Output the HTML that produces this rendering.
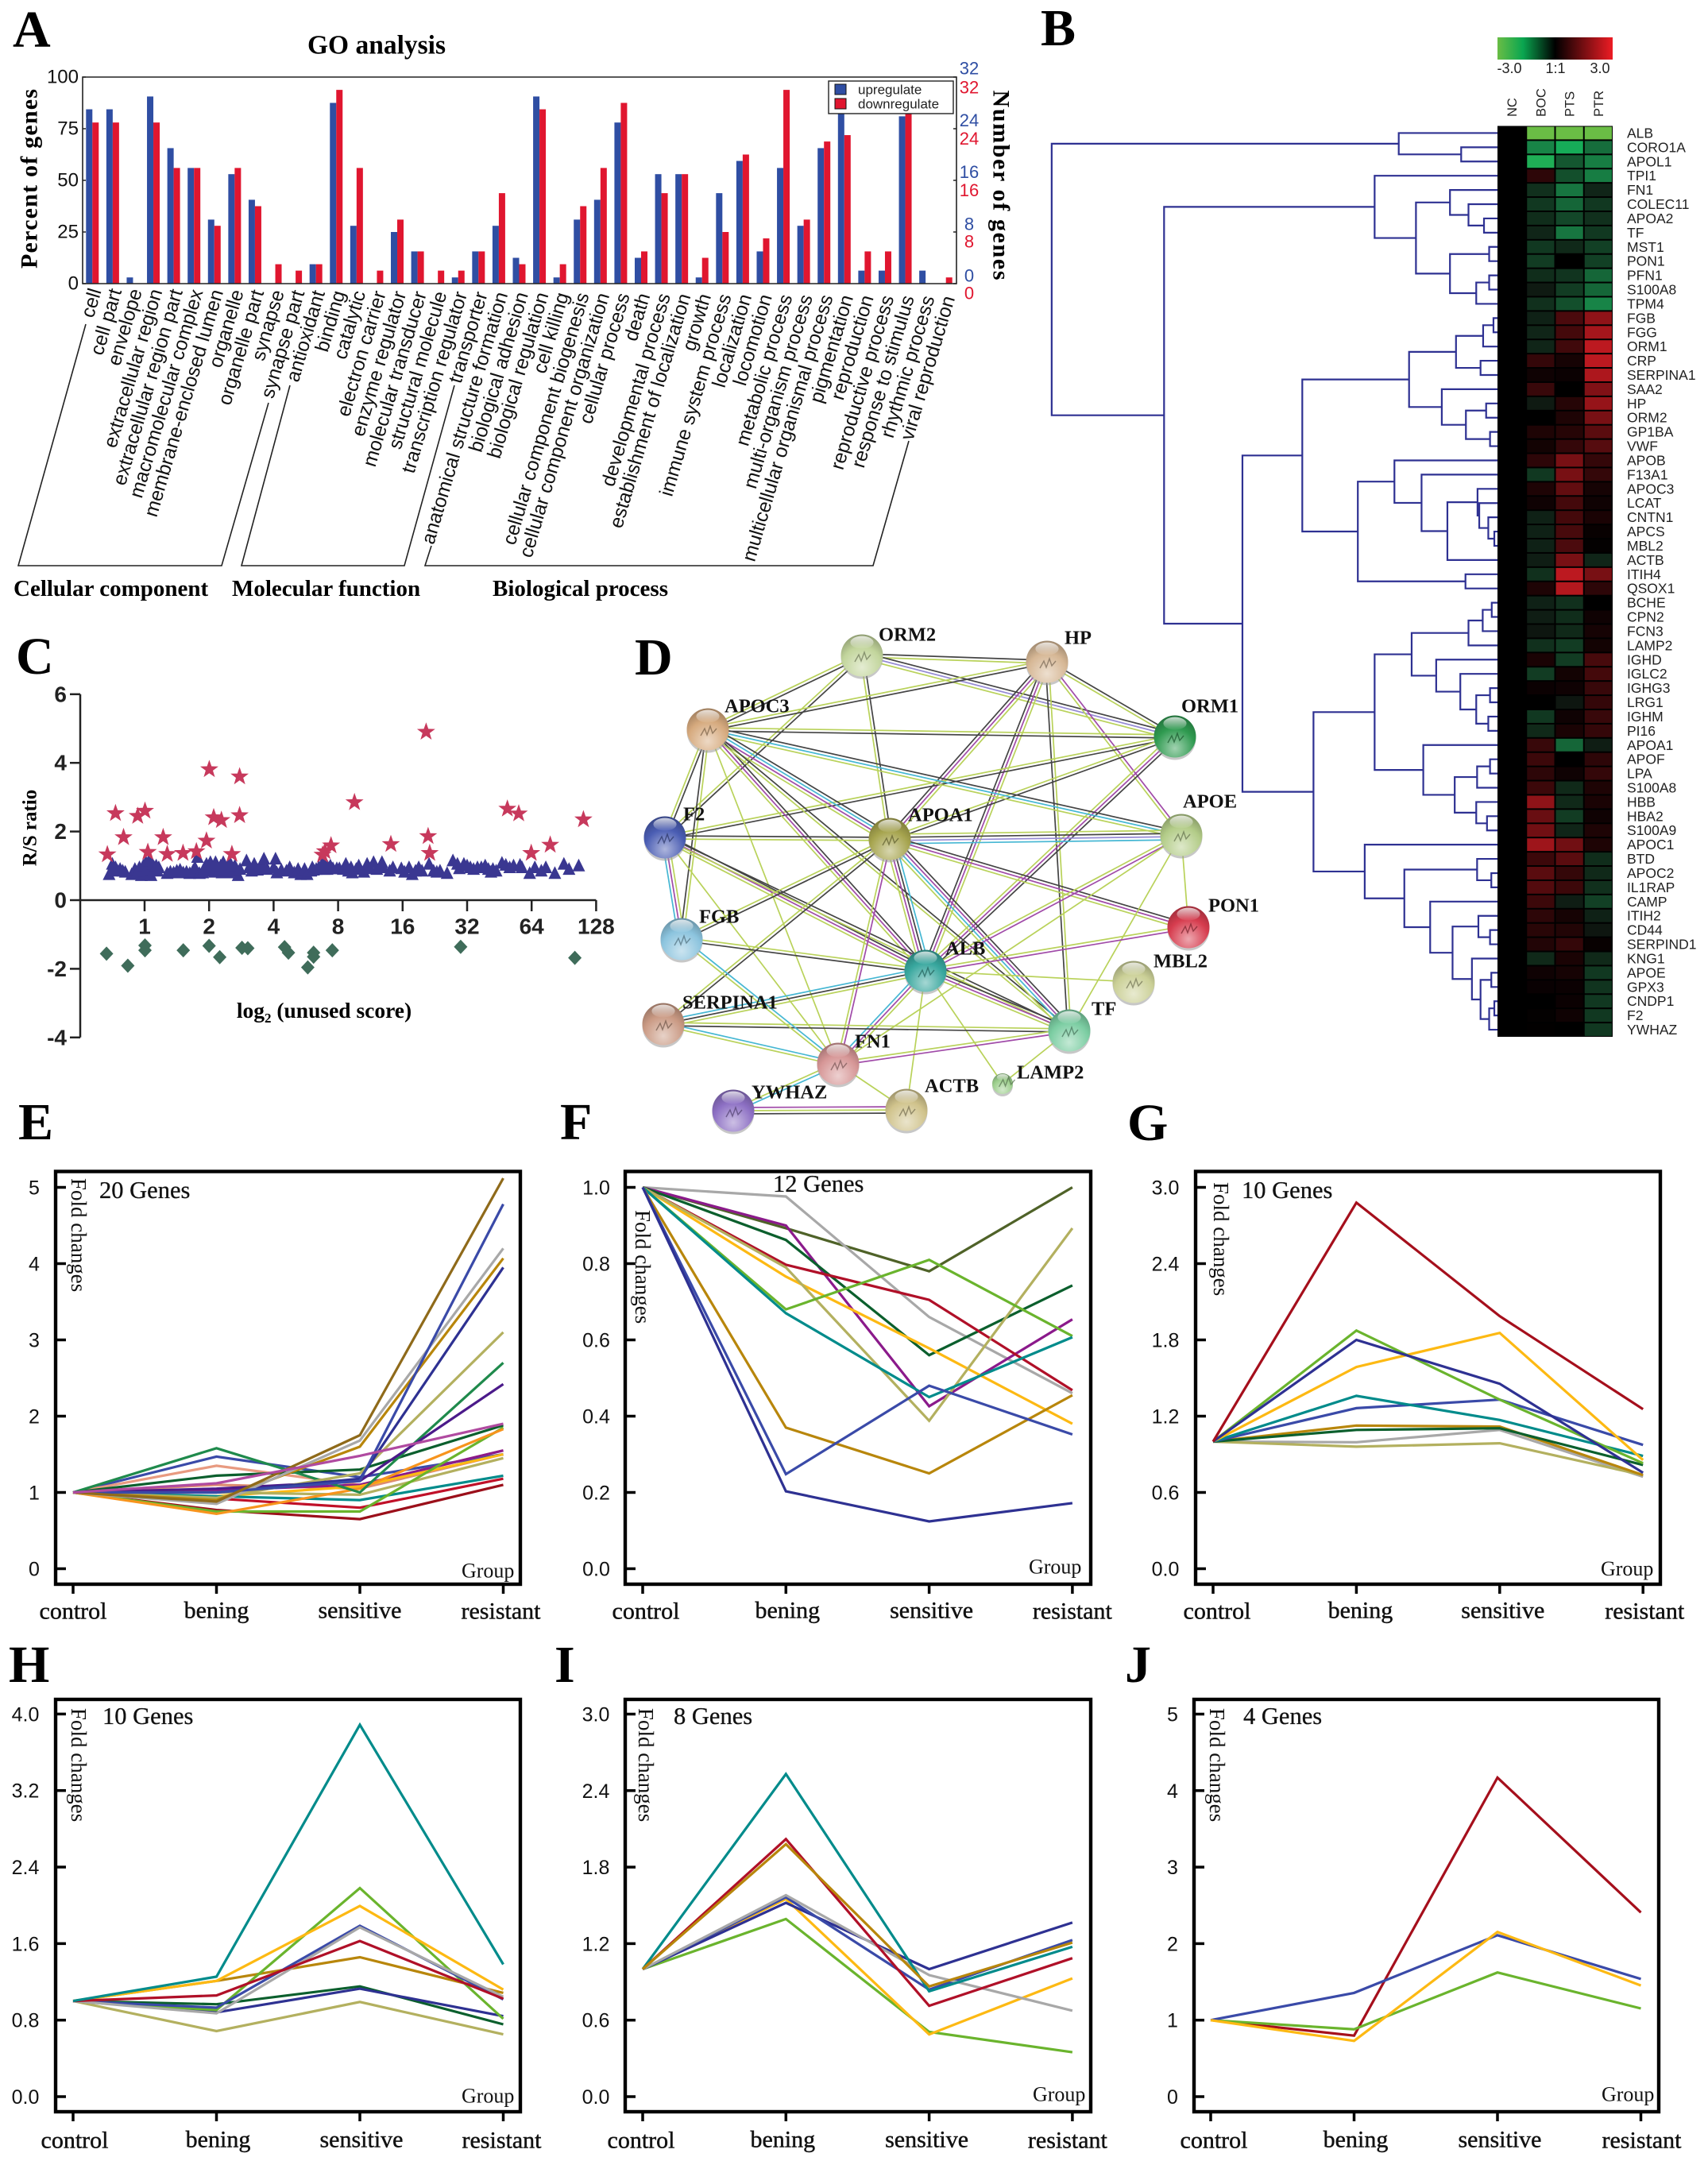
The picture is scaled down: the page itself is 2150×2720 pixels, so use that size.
<!DOCTYPE html>
<html lang="en">
<head>
<meta charset="utf-8">
<title>Proteomics figure panels A-J</title>
<style>
html,body{margin:0;padding:0;background:#fff;}
svg{display:block;}
.serif{font-family:"Liberation Serif",serif;}
.sans{font-family:"Liberation Sans",sans-serif;}
.sb{font-family:"Liberation Serif",serif;font-weight:bold;}
.letter{font-family:"Liberation Serif",serif;font-weight:bold;font-size:66px;fill:#000;}
</style>
</head>
<body>
<svg id="figure" xmlns="http://www.w3.org/2000/svg" width="2150" height="2720" viewBox="0 0 2150 2720">
<defs id="defs"></defs>
<rect width="2150" height="2720" fill="#fff"/>

<g>
<text class="letter" x="16" y="59">A</text>
<text class="letter" x="1310" y="57">B</text>
<text class="letter" x="20" y="848">C</text>
<text class="letter" x="799" y="849">D</text>
<text class="letter" x="23" y="1434">E</text>
<text class="letter" x="705" y="1434">F</text>
<text class="letter" x="1419" y="1435">G</text>
<text class="letter" x="11" y="2117">H</text>
<text class="letter" x="698" y="2117">I</text>
<text class="letter" x="1416" y="2117">J</text>
</g>

<g id="panelA">
<text class="sb" x="474" y="57" font-size="33.5" text-anchor="middle" dominant-baseline="central">GO analysis</text>
<text class="sb" transform="translate(37 225) rotate(-90)" font-size="30" text-anchor="middle" dominant-baseline="central" textLength="226" lengthAdjust="spacing">Percent of genes</text>
<text class="sb" transform="translate(1260 233) rotate(90)" font-size="30" text-anchor="middle" dominant-baseline="central" textLength="239" lengthAdjust="spacing">Number of genes</text>
<polyline points="108,408 23,712 279,712 338,507" fill="none" stroke="#222" stroke-width="1.6"/>
<polyline points="365,485 304,712 509,712 572,485" fill="none" stroke="#222" stroke-width="1.6"/>
<polyline points="543,687 535,712 1099,712 1144,555" fill="none" stroke="#222" stroke-width="1.6"/>
<text class="sb" x="17" y="750" font-size="29">Cellular component</text>
<text class="sb" x="292" y="750" font-size="29">Molecular function</text>
<text class="sb" x="620" y="750" font-size="29">Biological process</text>
</g>

<g id="panelB"></g>

<g id="panelC">
<text class="sb" transform="translate(38 1042) rotate(-90)" font-size="25" text-anchor="middle" dominant-baseline="central">R/S ratio</text>
<text class="sb" x="408" y="1281" font-size="27.5" text-anchor="middle">log<tspan font-size="17" dy="6">2</tspan><tspan dy="-6"> (unused score)</tspan></text>
</g>

<g id="panelD"></g>
<g id="panelsLine"></g>
</svg>

<script>
/* ---------- Panel A data ---------- */
const goCategories = ["cell","cell part","envelope","extracellular region","extracellular region part","macromolecular complex","membrane-enclosed lumen","organelle","organelle part","synapse","synapse part","antioxidant","binding","catalytic","electron carrier","enzyme regulator","molecular transducer","structural molecule","transcription regulator","transporter","anatomical structure formation","biological adhesion","biological regulation","cell killing","cellular component biogenesis","cellular component organization","cellular process","death","developmental process","establishment of localization","growth","immune system process","localization","locomotion","metabolic process","multi-organism process","multicellular organismal process","pigmentation","reproduction","reproductive process","response to stimulus","rhythmic process","viral reproduction"];
const goUp = [84.4,84.4,3,90.6,65.6,56,31,53,40.6,0,0,9.4,87.5,28,0,25,15.6,0,3,15.6,28,12.5,90.6,3,31,40.6,78,12.5,53,53,3,43.8,59.4,15.6,56,28,65.6,90,6.3,6.3,81,6.3,0];
const goDown = [78,78,0,78,56,56,28,56,37.5,9.4,6.3,9.4,93.8,56,6.3,31,15.6,6.3,6.3,15.6,43.8,9.4,84.4,9.4,37.5,56,87.5,15.6,43.8,53,12.5,25,62.5,21.9,93.8,31,68.8,71.9,15.6,15.6,87.5,0,3];
const goLeftTicks = [0,25,50,75,100];
const goBlueTicks = ["0","8","16","24","32"];
const goRedTicks = ["0","8","16","24","32"];

/* ---------- Panel B data ---------- */
const heatGenes = ["ALB","CORO1A","APOL1","TPI1","FN1","COLEC11","APOA2","TF","MST1","PON1","PFN1","S100A8","TPM4","FGB","FGG","ORM1","CRP","SERPINA1","SAA2","HP","ORM2","GP1BA","VWF","APOB","F13A1","APOC3","LCAT","CNTN1","APCS","MBL2","ACTB","ITIH4","QSOX1","BCHE","CPN2","FCN3","LAMP2","IGHD","IGLC2","IGHG3","LRG1","IGHM","PI16","APOA1","APOF","LPA","S100A8","HBB","HBA2","S100A9","APOC1","BTD","APOC2","IL1RAP","CAMP","ITIH2","CD44","SERPIND1","KNG1","APOE","GPX3","CNDP1","F2","YWHAZ"];
const heatColumns = ["NC","BOC","PTS","PTR"];
const heatBOC = [-3,-1.5,-2.2,.6,-.4,-.5,-.35,-.25,-.5,-.55,-.35,-.1,-.4,-.2,-.25,-.25,.7,.2,.75,-.1,0,.4,.25,.6,-.5,.4,.2,-.2,-.2,-.2,-.15,-.4,.4,-.2,-.15,-.05,-.4,.35,-.55,.15,0,-.5,-.3,.75,.8,.6,.8,1.9,1.4,1.5,2.1,.8,1.2,1.1,.8,.6,.55,.45,-.3,.2,.12,0,.05,.03];
const heatPTS = [-3,-2.1,-.9,-.8,-1.3,-1.1,-.7,-1.3,-.3,0,-.45,-.55,-.8,1,.9,.85,.3,.15,0,.5,.4,.5,.7,1.6,1.6,1.3,.9,.9,.95,1,1.6,2.5,2.4,-.4,-.35,-.3,-.55,-.55,.25,.2,-.05,.2,.35,-1.1,0,.2,-.3,-.3,-.55,-.25,1.5,1.2,.7,.8,-.15,.3,.45,.7,.35,.3,.15,.15,.2,0];
const heatPTR = [-3,-1.2,-1.4,-1.4,-.25,-.5,-.4,-.5,-.6,-.6,-1.1,-1.1,-1.5,1.9,2.2,2.5,2.5,2.3,1.7,2,1.6,1.2,1.15,.7,.7,.3,.2,.35,.1,.05,-.25,1.6,.6,0,.2,.3,.25,.95,.9,.75,.7,.75,.7,-.15,.6,.7,.4,.35,.2,.4,.4,-.35,-.3,-.4,-.6,-.2,-.05,.1,-.3,-.5,-.45,-.5,-.5,-.5];
const colorbarLabels = ["-3.0","1:1","3.0"];
/* merge heights: [height, childA, childB], integers are gene rows */
const dendroTree = [44,
  [850,0,[995,1,2]],
  [305,
    [794,3,[890,[969,4,[1012,5,[1048,6,7]]],[969,[1060,8,9],[1030,[1060,10,11],12]]]],
    [487,
      [626,
        [874,[983,[1046,[1070,13,14],15],[1040,16,17]],[950,18,[1006,[1053,19,20],[1062,21,22]]]],
        [755,[840,23,[903,24,[963,[1033,25,[1037,26,[1058,27,[1072,28,29]]]],30]]],[1005,31,32]]
      ],
      [652,
        [794,
          [880,[1012,[1045,[1066,33,34],35],36],[937,37,[993,38,[1030,[1062,39,40],[1058,41,42]]]]],
          [907,43,[980,[1032,[1062,44,45],46],[1030,47,[1055,48,49]]]]
        ],
        [771,50,[863,[1032,51,[1065,52,53]],[923,54,[975,[1035,55,[1062,56,57]],[1020,58,[1040,[1065,59,60],[1060,[1072,61,62],63]]]]]]]
      ]
    ]
  ]
];

/* ---------- Panel C data (log2 score, ratio) ---------- */
const scoreTicks = ["1","2","4","8","16","32","64","128"];
const ratioTicks = [6,4,2,0,-2,-4];
const starPoints = [[-.577,1.33],[-.451,2.53],[-.326,1.83],[-.107,2.45],[.006,2.6],[.05,1.4],[.288,1.83],[.351,1.34],[.596,1.37],[.803,1.42],[.959,1.73],[1.003,3.81],[1.072,2.41],[1.191,2.33],[1.354,1.34],[1.473,3.6],[1.473,2.47],[2.759,1.32],[2.796,1.42],[2.89,1.59],[3.254,2.85],[3.818,1.63],[4.364,4.9],[4.395,1.86],[4.42,1.37],[5.624,2.66],[5.8,2.52],[5.994,1.37],[6.288,1.61],[6.803,2.35]];
const trianglePoints = [[-.55,.75],[-.5,1.05],[-.48,.9],[-.45,.95],[-.42,.85],[-.38,.9],[-.34,.85],[-.3,.82],[-.2,.75],[-.15,.9],[-.12,.8],[-.08,.95],[-.05,.72],[-.02,1],[0,.85],[.02,1.1],[.04,.95],[.05,.78],[.07,1.15],[.1,.9],[.12,1.05],[.1,.72],[.15,.95],[.18,1],[.2,.85],[.22,.95],[.35,.78],[.4,.82],[.45,.8],[.5,.85],[.55,.88],[.6,.8],[.65,.82],[.7,.78],[.75,.85],[.78,.95],[.82,1.25],[.85,.78],[.9,.8],[.93,.95],[.96,1.05],[1,.85],[1.02,1.1],[1.05,.95],[1.08,.82],[1.1,1.1],[1.15,.85],[1.18,1],[1.2,.8],[1.22,1.1],[1.25,.9],[1.3,.8],[1.32,1.1],[1.35,.95],[1.38,.85],[1.4,1],[1.45,.72],[1.48,.9],[1.58,1.15],[1.62,.95],[1.66,.85],[1.7,1.05],[1.75,.88],[1.8,1],[1.85,.95],[1.9,.9],[1.85,1.2],[2,.95],[2.05,.8],[2.03,1.2],[2.12,.88],[2.2,.85],[2.25,.95],[2.32,.8],[2.38,.9],[2.42,.75],[2.48,.9],[2.52,.75],[2.58,.85],[2.6,.95],[2.62,.88],[2.66,.9],[2.7,.95],[2.75,1.05],[2.78,.9],[2.8,1.1],[2.83,.9],[2.88,1],[2.92,.92],[2.98,.92],[3.02,.92],[3.08,.9],[3.12,1.05],[3.16,.85],[3.2,.95],[3.22,.8],[3.28,.9],[3.32,1],[3.4,.82],[3.45,1.05],[3.5,.92],[3.55,1.1],[3.6,.9],[3.68,1.1],[3.7,.95],[3.8,.85],[3.85,.95],[3.98,.92],[4.03,.82],[4.1,.95],[4.15,.75],[4.2,.85],[4.25,.95],[4.3,.85],[4.41,1.05],[4.48,.85],[4.53,.82],[4.58,.85],[4.69,.78],[4.78,1.15],[4.85,1.05],[4.88,.92],[4.95,1.05],[5,1],[5.05,.95],[5.1,.9],[5.16,.95],[5.22,.95],[5.28,1],[5.33,.9],[5.37,.82],[5.4,.9],[5.45,.85],[5.54,1.08],[5.6,1.02],[5.66,.95],[5.72,1],[5.82,1.02],[5.85,.95],[5.97,.78],[6.05,.95],[6.15,.85],[6.22,.95],[6.36,.78],[6.5,1.05],[6.58,.9],[6.73,1]];
const diamondPoints = [[-.59,-1.56],[-.26,-1.91],[.006,-1.32],[.006,-1.46],[.6,-1.46],[1,-1.33],[1.165,-1.66],[1.51,-1.39],[1.6,-1.4],[2.17,-1.37],[2.23,-1.53],[2.53,-1.96],[2.62,-1.53],[2.62,-1.65],[2.91,-1.46],[4.9,-1.36],[6.67,-1.68]];

/* ---------- Panel D data ---------- */
const netNodes = {
  ORM2:[1085,825,26.5,"#c2d59c",1106,799], HP:[1318,833,26.5,"#d6b795",1340,803], ORM1:[1479,927,26.5,"#2f9a50",1487,889],
  APOE:[1487,1051,26.5,"#b3cc88",1489,1009], PON1:[1496,1167,26.5,"#d63c4e",1521,1140], MBL2:[1427,1236,26.5,"#cbd097",1452,1210],
  TF:[1346,1297,26.5,"#7bcda2",1374,1270], LAMP2:[1262,1364,13,"#9dcf8d",1280,1350], ACTB:[1141,1397,26.5,"#d0c38c",1164,1367],
  YWHAZ:[923,1398,26.5,"#8d70c4",946,1375], FN1:[1055,1339,26.5,"#d69696",1076,1311], SERPINA1:[835,1289,26.5,"#ca9a84",859,1262],
  ALB:[1165,1222,26.5,"#38a79e",1190,1194], FGB:[858,1182,26.5,"#8cc4de",880,1154], F2:[837,1054,26.5,"#4a5db3",860,1025],
  APOA1:[1120,1056,26.5,"#a6a44e",1143,1026], APOC3:[891,918,26.5,"#d6aa7e",912,889]
};
const netEdges = [
  ["ORM2","HP","ky"],["ORM2","ORM1","kpy"],["ORM2","APOC3","ky"],["ORM2","APOA1","ky"],["ORM2","F2","ky"],
  ["HP","APOC3","ky"],["HP","ORM1","ky"],["HP","APOE","my"],["HP","APOA1","ymk"],["HP","ALB","ymk"],["HP","TF","yk"],
  ["ORM1","APOC3","ky"],["ORM1","F2","ky"],["ORM1","APOA1","ky"],["ORM1","ALB","kmy"],
  ["APOC3","APOE","kcy"],["APOC3","F2","ky"],["APOC3","FGB","yk"],["APOC3","APOA1","kcmy"],["APOC3","ALB","kmy"],["APOC3","TF","ky"],["APOC3","FN1","y"],
  ["F2","APOA1","ky"],["APOA1","APOE","ykpc"],["F2","FGB","ymc"],["F2","ALB","kmy"],["F2","TF","ky"],["F2","FN1","y"],
  ["APOA1","PON1","kmy"],["APOA1","ALB","ckmy"],["APOA1","TF","kmcy"],["APOA1","FGB","ky"],["APOA1","SERPINA1","ky"],["APOA1","FN1","my"],
  ["APOE","PON1","y"],["APOE","ALB","my"],["APOE","TF","y"],["APOE","FN1","y"],["PON1","ALB","my"],["MBL2","ALB","y"],
  ["ALB","TF","kmy"],["ALB","FGB","ky"],["ALB","SERPINA1","ykc"],["ALB","FN1","ymc"],["ALB","ACTB","y"],["ALB","LAMP2","y"],["TF","LAMP2","y"],
  ["TF","SERPINA1","ky"],["TF","FN1","my"],["SERPINA1","FN1","cy"],["FGB","FN1","cy"],["FN1","ACTB","y"],["FN1","YWHAZ","cy"],["YWHAZ","ACTB","myk"]
];

/* ---------- Fold change panels data ---------- */
const stages = ["control","bening","sensitive","resistant"];
const eTicks = ["0","1","2","3","4","5"];
const eColors = ["#dd8b70","#3a4aa8","#e89a80","#8b1a8b","#fdb913","#b3b05f","#008b8b","#c01028","#9b0f1a","#6ab42d","#f7941d","#0b5f2d","#1f8a4c","#4b1a8a","#b3b05f","#2e3192","#b8860b","#a8a8a8","#3a4aa8","#8f6a1a","#b04aa0"];
const eValues = [[1,1.1,1.05,1.5],[1,1.47,1.2,1.5],[1,1.35,1.1,1.55],[1,1.03,1.1,1.55],[1,.95,1.08,1.5],[1,1,.97,1.45],[1,.95,.9,1.22],[1,.92,.8,1.18],[1,.77,.65,1.1],[1,.75,.75,1.85],[1,.72,1.05,1.83],[1,1.22,1.3,1.88],[1,1.58,1,2.7],[1,1.05,1.15,2.42],[1,.93,1.25,3.1],[1,1,1.18,3.95],[1,.9,1.6,4.07],[1,.85,1.68,4.2],[1,1,1.15,4.78],[1,.88,1.75,5.12],[1,1.12,1.48,1.9]];
const fTicks = ["0.0","0.2","0.4","0.6","0.8","1.0"];
const fColors = ["#4f6228","#a8a8a8","#8b1a8b","#0b5f2d","#b01028","#fdb913","#b3b05f","#6ab42d","#008b8b","#b8860b","#3a4aa8","#2e3192"];
const fValues = [[1,.893,.78,1],[1,.976,.66,.46],[1,.9,.426,.654],[1,.862,.56,.743],[1,.797,.705,.468],[1,.766,.578,.38],[1,.79,.388,.893],[1,.68,.81,.61],[1,.67,.45,.607],[1,.37,.25,.455],[1,.248,.48,.352],[1,.203,.124,.172]];
const gTicks = ["0.0","0.6","1.2","1.8","2.4","3.0"];
const gColors = ["#a8a8a8","#b3b05f","#b8860b","#0b5f2d","#3a4aa8","#008b8b","#fdb913","#6ab42d","#2e3192","#a50f1c"];
const gValues = [[1,.995,1.092,.724],[1,.96,.987,.737],[1,1.126,1.118,.737],[1,1.092,1.105,.816],[1,1.263,1.33,.974],[1,1.36,1.17,.887],[1,1.587,1.855,.855],[1,1.874,1.33,.83],[1,1.8,1.455,.755],[1,2.88,1.987,1.255]];
const hTicks = ["0.0","0.8","1.6","2.4","3.2","4.0"];
const hColors = ["#b3b05f","#0b5f2d","#2e3192","#b8860b","#6ab42d","#fdb913","#3a4aa8","#a8a8a8","#b01028","#008b8b"];
const hValues = [[1,.685,.99,.651],[1,.966,1.153,.756],[1,.881,1.129,.841],[1,1.21,1.458,1.085],[1,.905,2.18,.814],[1,1.21,1.993,1.119],[1,.93,1.786,1.017],[1,.871,1.77,1.044],[1,1.058,1.627,1.024],[1,1.254,3.888,1.383]];
const iTicks = ["0.0","0.6","1.2","1.8","2.4","3.0"];
const iColors = ["#6ab42d","#fdb913","#2e3192","#3a4aa8","#a8a8a8","#008b8b","#b01028","#b8860b"];
const iValues = [[1,1.393,.508,.348],[1,1.55,.488,.928],[1,1.52,1,1.365],[1,1.564,.839,1.228],[1,1.58,.953,.674],[1,2.53,.826,1.175],[1,2.02,.712,1.086],[1,1.98,.864,1.208]];
const jTicks = ["0","1","2","3","4","5"];
const jColors = ["#a50f1c","#6ab42d","#3a4aa8","#fdb913"];
const jValues = [[1,.797,4.17,2.407],[1,.881,1.623,1.153],[1,1.356,2.11,1.538],[1,.729,2.153,1.453]];

/* ---------- helpers ---------- */
const NS = "http://www.w3.org/2000/svg";
function mk(tag, attrs, parent, text){
  const el = document.createElementNS(NS, tag);
  for (const k in attrs) el.setAttribute(k, attrs[k]);
  if (text !== undefined) el.textContent = text;
  parent.appendChild(el);
  return el;
}
function groupIn(parent, name){
  const g = mk('g', {}, parent);
  
  
  return g;
}
const defs = document.getElementById('defs');

/* ---------- Panel A ---------- */
(function(){
  const root = document.getElementById('panelA');
  const left = 104, right = 1204, top = 97, bottom = 357;
  const band = (right - left) / goCategories.length;
  const yPct = v => bottom - (v / 100) * (bottom - top);
  const bars = groupIn(root, 'go-bars');
  goCategories.forEach((c, i) => {
    const cx = left + band * (i + .5);
    const b1 = mk('rect', {x: cx - 8.5, y: yPct(goUp[i]), width: 8, height: bottom - yPct(goUp[i]), fill: '#2f4ea3'}, bars);
    
    
    const b2 = mk('rect', {x: cx - .5, y: yPct(goDown[i]), width: 8, height: bottom - yPct(goDown[i]), fill: '#e0162f'}, bars);
    
    
    const ex = cx + 11, ey = 366 + i * .22;
    const t = mk('text', {x: ex, y: ey, 'text-anchor': 'end', 'font-size': 24.5, 'class': 'sans', fill: '#111', transform: `rotate(-73.5 ${ex} ${ey})`}, root, c);
    
    
  });
  const frame = mk('path', {d: `M${left} ${top}H${right}V${bottom}H${left}Z`, fill: 'none', stroke: '#222', 'stroke-width': 1.6}, root);
  
  
  const legend = groupIn(root, 'go-legend');
  const lb = mk('rect', {x: 1043, y: 102, width: 157, height: 41, fill: '#fff', stroke: '#222', 'stroke-width': 1.4}, legend);
  
  
  const s1 = mk('rect', {x: 1051, y: 106, width: 14, height: 13, fill: '#2f4ea3', stroke: '#111'}, legend);
  
  
  const s2 = mk('rect', {x: 1051, y: 124, width: 14, height: 13, fill: '#e0162f', stroke: '#111'}, legend);
  
  
  const l1 = mk('text', {x: 1080, y: 113, 'font-size': 17, 'class': 'sans', 'dominant-baseline': 'central', fill: '#222'}, legend, 'upregulate');
  
  
  const l2 = mk('text', {x: 1080, y: 131, 'font-size': 17, 'class': 'sans', 'dominant-baseline': 'central', fill: '#222'}, legend, 'downregulate');
  
  
  goLeftTicks.forEach(v => {
    const tk = mk('line', {x1: left, x2: left + 4, y1: yPct(v), y2: yPct(v), stroke: '#222', 'stroke-width': 1.5}, root);
    
    
    const rk = mk('line', {x1: right, x2: right - 4, y1: yPct(v), y2: yPct(v), stroke: '#222', 'stroke-width': 1.5}, root);
    
    
    const t = mk('text', {x: left - 5, y: yPct(v), 'text-anchor': 'end', 'dominant-baseline': 'central', 'font-size': 24, 'class': 'sans', fill: '#111'}, root, String(v));
    
    
  });
  goBlueTicks.forEach((v, i) => {
    const t = mk('text', {x: 1220, y: 347 - i * 65.2, 'text-anchor': 'middle', 'dominant-baseline': 'central', 'font-size': 22, 'class': 'sans', fill: '#2f4ea3'}, root, v);
    
    
  });
  goRedTicks.forEach((v, i) => {
    const t = mk('text', {x: 1220, y: 369 - i * 64.8, 'text-anchor': 'middle', 'dominant-baseline': 'central', 'font-size': 22, 'class': 'sans', fill: '#e0162f'}, root, v);
    
    
  });
})();

/* ---------- Panel B ---------- */
function heatColor(v){
  if (v >= 0) { const t = Math.min(1, v / 3); return `rgb(${Math.round(225*t)},${Math.round(30*t)},${Math.round(38*t)})`; }
  const t = Math.min(1, -v / 3);
  if (t < .7) { const u = t / .7; return `rgb(${Math.round(14*u+ (u>0?14:0))},${Math.round(160*u+18*(u>0?1:0))},${Math.round(80*u+14*(u>0?1:0))})`; }
  const u = (t - .7) / .3;
  return `rgb(${Math.round(22+84*u)},${Math.round(172+17*u)},${Math.round(88-19*u)})`;
}
(function(){
  const root = document.getElementById('panelB');
  const hx = 1885, hTop = 158.5, hBot = 1305, colW = 36.25;
  const rowH = (hBot - hTop) / heatGenes.length;
  const rowY = i => hTop + rowH * (i + .5);
  const dendroX = h => 1300 + h / 1.845;

  const grad = mk('linearGradient', {id: 'cbar', x1: 0, x2: 1, y1: 0, y2: 0}, defs);
  [[0,'#6abd45'],[.22,'#0aa650'],[.5,'#000'],[1,'#ed1c24']].forEach(s => mk('stop', {offset: s[0], 'stop-color': s[1]}, grad));
  const cb = mk('rect', {x: 1885, y: 47, width: 145, height: 28, fill: 'url(#cbar)'}, root);
  
  
  colorbarLabels.forEach((l, i) => {
    const t = mk('text', {x: [1900,1958,2014][i], y: 86, 'text-anchor': 'middle', 'dominant-baseline': 'central', 'font-size': 18, 'class': 'sans', fill: '#222'}, root, l);
    
    
  });
  heatColumns.forEach((c, i) => {
    const x = hx + colW * (i + .5) + 1;
    const t = mk('text', {transform: `translate(${x} 147) rotate(-90)`, 'dominant-baseline': 'central', 'font-size': 16.5, 'class': 'sans', fill: '#222'}, root, c);
    
    
  });
  const bg = mk('rect', {x: hx, y: hTop, width: colW * 4, height: hBot - hTop, fill: '#000'}, root);
  
  
  const cells = groupIn(root, 'heatmap-cells');
  [heatBOC, heatPTS, heatPTR].forEach((col, c) => {
    col.forEach((v, r) => {
      const cell = mk('rect', {x: hx + colW * (c + 1) + 1, y: hTop + rowH * r + 1, width: colW - 2, height: rowH - 2, fill: heatColor(v)}, cells);
      
      
    });
  });
  heatGenes.forEach((g, r) => {
    const t = mk('text', {x: 2048, y: rowY(r), 'dominant-baseline': 'central', 'font-size': 17.5, 'class': 'sans', fill: '#222'}, root, g);
    
    
  });
  const dg = groupIn(root, 'dendrogram');
  function walk(node){
    if (typeof node === 'number') return {x: hx, y: rowY(node)};
    const a = walk(node[1]), b = walk(node[2]);
    const x = dendroX(node[0]);
    const p = mk('path', {d: `M${a.x} ${a.y}H${x}V${b.y}H${b.x}`, fill: 'none', stroke: '#2e3192', 'stroke-width': 2.2}, dg);
    
    
    return {x: x, y: (a.y + b.y) / 2};
  }
  walk(dendroTree);
})();

/* ---------- Panel C ---------- */
(function(){
  const root = document.getElementById('panelC');
  const xPos = l => 182 + 81.2 * l;
  const yPos = r => 1133 - 43.2 * r;
  const axisX = 101;
  const yAxis = mk('line', {x1: axisX, x2: axisX, y1: yPos(6), y2: yPos(-4), stroke: '#222', 'stroke-width': 2.5}, root);
  
  
  const xAxis = mk('line', {x1: axisX, x2: xPos(7), y1: yPos(0), y2: yPos(0), stroke: '#222', 'stroke-width': 2.5}, root);
  
  
  ratioTicks.forEach(v => {
    const tk = mk('line', {x1: axisX - 13, x2: axisX, y1: yPos(v), y2: yPos(v), stroke: '#222', 'stroke-width': 2.5}, root);
    
    
    const t = mk('text', {x: 84, y: yPos(v), 'text-anchor': 'end', 'dominant-baseline': 'central', 'font-size': 28, 'font-weight': 'bold', 'class': 'sans', fill: '#222'}, root, String(v));
    
    
  });
  scoreTicks.forEach((l, i) => {
    const tk = mk('line', {x1: xPos(i), x2: xPos(i), y1: yPos(0), y2: yPos(0) + 14, stroke: '#222', 'stroke-width': 2.5}, root);
    
    
    const t = mk('text', {x: xPos(i), y: 1166, 'text-anchor': 'middle', 'dominant-baseline': 'central', 'font-size': 28, 'font-weight': 'bold', 'class': 'sans', fill: '#222'}, root, l);
    
    
  });
  const tri = groupIn(root, 'unchanged-triangles');
  trianglePoints.forEach(p => {
    const x = xPos(p[0]), y = yPos(p[1]);
    const m = mk('polygon', {points: `${x},${y-9} ${x+8},${y+7} ${x-8},${y+7}`, fill: '#3a3791'}, tri);
    
    
  });
  const st = groupIn(root, 'upregulated-stars');
  starPoints.forEach(p => {
    const x = xPos(p[0]), y = yPos(p[1]);
    const pts = [];
    for (let k = 0; k < 10; k++) {
      const r = k % 2 ? 4.8 : 12, a = -Math.PI / 2 + k * Math.PI / 5;
      pts.push((x + r * Math.cos(a)).toFixed(1) + ',' + (y + r * Math.sin(a)).toFixed(1));
    }
    const m = mk('polygon', {points: pts.join(' '), fill: '#c7395c'}, st);
    
    
  });
  const di = groupIn(root, 'downregulated-diamonds');
  diamondPoints.forEach(p => {
    const x = xPos(p[0]), y = yPos(p[1]);
    const m = mk('polygon', {points: `${x},${y-9} ${x+8.5},${y} ${x},${y+9} ${x-8.5},${y}`, fill: '#3f6c5a'}, di);
    
    
  });
})();

/* ---------- Panel D ---------- */
function mix(hex, other, t){
  const a = [1,3,5].map(i => parseInt(hex.substr(i,2),16));
  const b = [1,3,5].map(i => parseInt(other.substr(i,2),16));
  return 'rgb(' + a.map((v,i) => Math.round(v + (b[i]-v)*t)).join(',') + ')';
}
(function(){
  const root = document.getElementById('panelD');
  const kindColor = {k:'#444444', y:'#b9d25a', m:'#a04aa8', c:'#45b7d3', p:'#958ad4'};
  const eg = groupIn(root, 'network-edges');
  netEdges.forEach(e => {
    const A = netNodes[e[0]], B = netNodes[e[1]];
    const dx = B[0]-A[0], dy = B[1]-A[1], len = Math.hypot(dx,dy), nx = -dy/len, ny = dx/len;
    const kinds = e[2].split('');
    kinds.forEach((k,i) => {
      const off = (i - (kinds.length-1)/2) * 4;
      const ln = mk('line', {x1: A[0]+nx*off, y1: A[1]+ny*off, x2: B[0]+nx*off, y2: B[1]+ny*off, stroke: kindColor[k], 'stroke-width': 1.7}, eg);
      
      
    });
  });
  const hl = mk('linearGradient', {id: 'nodeHi', x1: 0, x2: 0, y1: 0, y2: 1}, defs);
  mk('stop', {offset: 0, 'stop-color': '#fff', 'stop-opacity': .75}, hl);
  mk('stop', {offset: 1, 'stop-color': '#fff', 'stop-opacity': .05}, hl);
  const ng = groupIn(root, 'network-nodes');
  const lg = groupIn(root, 'network-labels');
  Object.keys(netNodes).forEach((name, idx) => {
    const n = netNodes[name];
    const gr = mk('radialGradient', {id: 'node' + idx, cx: .5, cy: .78, r: .8}, defs);
    mk('stop', {offset: 0, 'stop-color': mix(n[3], '#ffffff', .55)}, gr);
    mk('stop', {offset: .6, 'stop-color': n[3]}, gr);
    mk('stop', {offset: 1, 'stop-color': mix(n[3], '#000000', .28)}, gr);
    const sh = mk('ellipse', {cx: n[0], cy: n[1]+2.5, rx: n[2], ry: n[2]+.5, fill: '#999', opacity: .55}, ng);
    
    
    const c = mk('circle', {cx: n[0], cy: n[1], r: n[2], fill: `url(#node${idx})`}, ng);
    
    
    const h = mk('ellipse', {cx: n[0], cy: n[1]-n[2]*.62, rx: n[2]*.55, ry: n[2]*.3, fill: 'url(#nodeHi)'}, ng);
    
    
    const s = n[2] / 26.5;
    const sq = mk('path', {d: `M${n[0]-9*s} ${n[1]+8*s}l5 -9 3 8 4 -11 3 9 5 -6`, fill: 'none', stroke: mix(n[3], '#000000', .45), 'stroke-width': 1.4, opacity: .7}, ng);
    
    
    const t = mk('text', {x: n[4], y: n[5], 'dominant-baseline': 'central', 'font-size': 24.5, 'class': 'sb', fill: '#111'}, lg, name);
    
    
  });
})();

/* ---------- Fold-change line panels ---------- */
function drawLinePanel(cfg){
  const root = groupIn(document.getElementById('panelsLine'), 'fold-panel-' + cfg.id);
  const xPos = i => cfg.xFirst + i * cfg.xStep;
  const yPos = v => cfg.yZero - v * cfg.unit;
  const ln = groupIn(root, 'series-lines');
  cfg.values.forEach((s, i) => {
    const pts = s.map((v, k) => xPos(k).toFixed(1) + ',' + yPos(v).toFixed(1)).join(' ');
    const p = mk('polyline', {points: pts, fill: 'none', stroke: cfg.colors[i], 'stroke-width': 3.2, 'stroke-linejoin': 'miter'}, ln);
    
    
  });
  const box = mk('rect', {x: cfg.left, y: cfg.top, width: cfg.right - cfg.left, height: cfg.bottom - cfg.top, fill: 'none', stroke: '#000', 'stroke-width': 4.4}, root);
  
  
  cfg.ticks.forEach((lab, i) => {
    const v = parseFloat(lab);
    const tk = mk('line', {x1: cfg.left, x2: cfg.left + 13, y1: yPos(v), y2: yPos(v), stroke: '#000', 'stroke-width': 3.5}, root);
    
    
    const t = mk('text', {x: cfg.tickX, y: yPos(v) + 1, 'text-anchor': 'middle', 'dominant-baseline': 'central', 'font-size': 25, 'class': 'sans', fill: '#111'}, root, lab);
    
    
  });
  stages.forEach((s, i) => {
    const tk = mk('line', {x1: xPos(i), x2: xPos(i), y1: cfg.bottom, y2: cfg.bottom + 12, stroke: '#000', 'stroke-width': 3.5}, root);
    
    
    const t = mk('text', {x: xPos(i) + cfg.labelDx[i], y: cfg.labelY + (i === 3 ? 1 : (i === 0 ? 1 : 0)), 'text-anchor': 'middle', 'dominant-baseline': 'central', 'font-size': 30, 'class': 'serif', fill: '#111', stroke: '#111', 'stroke-width': .45}, root, s);
    
    
  });
  const g = mk('text', {x: cfg.groupX, y: cfg.groupY, 'dominant-baseline': 'central', 'font-size': 26, 'class': 'serif', fill: '#111'}, root, 'Group');
  
  
  const ti = mk('text', {x: cfg.titleX, y: cfg.titleY, 'dominant-baseline': 'central', 'font-size': 30.5, 'class': 'serif', fill: '#111', stroke: '#111', 'stroke-width': .3}, root, cfg.title);
  
  
  const yt = mk('text', {transform: `translate(${cfg.yTitleX} ${cfg.yTitleY}) rotate(90)`, 'dominant-baseline': 'central', 'font-size': 27, 'class': 'serif', fill: '#111'}, root, 'Fold changes');
  
  
}
const rowA = {top: 1474.5, bottom: 1994, yZero: 1974.5, labelY: 2027};
const rowB = {top: 2139, bottom: 2658, yZero: 2639, labelY: 2693};
drawLinePanel(Object.assign({}, rowA, {id:'e', title:'20 Genes', values:eValues, colors:eColors, ticks:eTicks, unit:96, left:70, right:655, xFirst:92, xStep:180.5, tickX:43, labelDx:[0,0,0,-3], groupX:581, groupY:1977, titleX:125, titleY:1498, yTitleX:99, yTitleY:1483}));
drawLinePanel(Object.assign({}, rowA, {id:'f', title:'12 Genes', values:fValues, colors:fColors, ticks:fTicks, unit:480, left:787, right:1373, xFirst:809, xStep:180.3, tickX:750.5, labelDx:[4,2,3,0], groupX:1295, groupY:1972, titleX:973, titleY:1490, yTitleX:809, yTitleY:1523}));
drawLinePanel(Object.assign({}, rowA, {id:'g', title:'10 Genes', values:gValues, colors:gColors, ticks:gTicks, unit:160, left:1505, right:2090, xFirst:1527, xStep:180.4, tickX:1467, labelDx:[5,5,4,2], groupX:2015, groupY:1974.5, titleX:1563, titleY:1498, yTitleX:1537, yTitleY:1488}));
drawLinePanel(Object.assign({}, rowB, {id:'h', title:'10 Genes', values:hValues, colors:hColors, ticks:hTicks, unit:120.4, left:70, right:655, xFirst:92, xStep:180.5, tickX:32, labelDx:[2,2,2,-2], groupX:581, groupY:2638, titleX:129, titleY:2160, yTitleX:99, yTitleY:2150}));
drawLinePanel(Object.assign({}, rowB, {id:'i', title:'8 Genes', values:iValues, colors:iColors, ticks:iTicks, unit:160.5, left:787, right:1373, xFirst:809, xStep:180.3, tickX:750, labelDx:[-2,-4,-3,-6], groupX:1300, groupY:2636, titleX:848, titleY:2160, yTitleX:813, yTitleY:2150}));
drawLinePanel(Object.assign({}, rowB, {id:'j', title:'4 Genes', values:jValues, colors:jColors, ticks:jTicks, unit:96.3, left:1503, right:2088, xFirst:1524, xStep:180.5, tickX:1476, labelDx:[4,2,3,1], groupX:2016, groupY:2636, titleX:1565, titleY:2160, yTitleX:1532, yTitleY:2150}));
</script>
</body>
</html>
